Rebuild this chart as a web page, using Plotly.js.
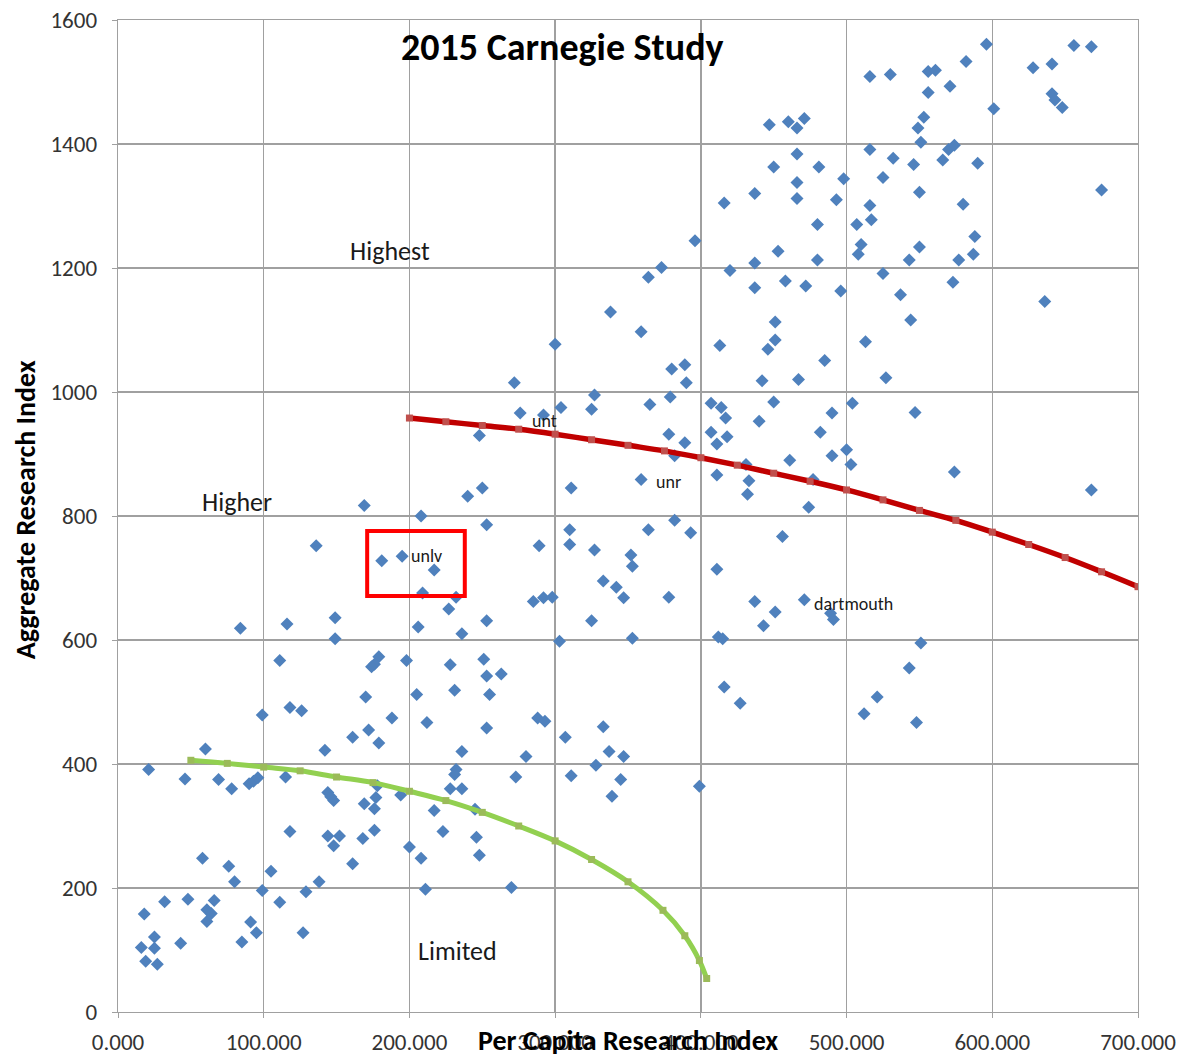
<!DOCTYPE html>
<html>
<head>
<meta charset="utf-8">
<script src="https://cdn.plot.ly/plotly-3.0.1.min.js"></script>
<style>html,body{margin:0;padding:0;background:#fff;}#chart{width:1180px;height:1056px;}</style>
</head>
<body>
<div id="chart"></div>
<script>
// Institutions: per capita research index (x) and aggregate research index (y)
const schoolX = [
338,300,
596,656,668,582,628,641,516,530,556,561,571,556,601,641,643,648,553,549,551,447,460,466,471,516,532,546,566,570,574,590,466,450,481,498,466,525,466,437,416,493,550,580,675,516,517,480,507,396,588,550,453,510,508,480,543,577,587,437,373,364,420,525,458,472,437,496,573,537,636,451,544,359,413,451,446,513,
380,389,390,485,442,467,527,365,379,407,414,417,450,440,490,504,547,378,389,407,418,411,482,382,431,461,490,500,503,359,411,433,432,477,474,574,668,382,364,393,456,352,353,411,378,437,471,451,489,491,443,353,412,415,551,543,
416,427,521,512,548,399,
272,327,276,292,304,325,248,250,240,311,169,208,253,310,310,289,327,136,181,195,217,333,342,347,285,292,298,209,232,227,253,325,206,236,303,84,116,149,149,111,179,176,174,198,228,251,253,263,
99,118,126,170,205,231,255,212,253,172,188,161,179,60,142,236,288,293,307,333,280,337,347,21,46,69,78,90,93,96,115,232,231,273,311,328,345,339,144,148,146,178,177,176,169,194,228,236,217,245,223,246,248,200,208,211,270,118,144,152,148,168,176,161,58,76,80,105,138,99,129,111,18,32,48,66,61,64,61,91,95,127,85,43,25,16,25,19,27
];
const schoolY = [
1129,1077,
1561,1559,1557,1533,1523,1529,1509,1512,1517,1519,1493,1483,1457,1481,1471,1459,1443,1426,1403,1431,1436,1426,1441,1391,1377,1367,1374,1391,1398,1369,1384,1363,1363,1344,1338,1346,1312,1320,1305,1310,1322,1303,1326,1301,1278,1270,1270,1244,1251,1234,1227,1238,1222,1213,1213,1213,1222,1208,1201,1185,1196,1191,1179,1171,1168,1163,1177,1157,1146,1113,1116,1097,1075,1084,1069,1081,
1037,1044,1015,1051,1018,1020,1023,980,992,982,975,958,984,953,966,982,967,932,918,935,928,916,935,897,883,890,897,907,883,859,866,857,835,859,814,871,842,793,778,773,767,737,719,714,669,662,665,645,643,633,623,603,605,602,595,555,
524,498,508,481,467,364,
1015,995,966,963,975,972,930,845,832,845,817,800,786,778,754,752,745,752,728,735,713,695,685,668,662,668,669,676,669,650,631,631,621,610,598,619,626,636,602,567,573,561,557,567,560,569,542,545,
479,491,486,508,512,519,512,467,458,455,474,443,434,424,422,420,474,469,443,460,412,420,412,391,376,375,360,368,372,378,379,391,383,379,381,398,375,348,354,341,347,365,346,328,336,350,360,360,325,327,291,282,253,266,248,198,201,291,284,284,268,280,293,239,248,235,210,227,210,196,194,177,158,178,182,180,165,159,146,145,128,128,113,111,121,104,103,82,77
];

// Boundary curves
const highestX = [200,225,250,275,300,325,350,375,400,425,450,475,500,525,550,575,600,625,650,675,700];
const highestY = [958,952,946,940,932,923,914,905,894,882,869,856,842,826,809,793,774,754,733,710,686];
const higherX = [50,75,100,125,150,175,200,225,250,275,300,325,350,374,389,399,404];
const higherY = [406,401,395,389,379,370,356,341,322,300,276,246,210,164,123,83,54];

// Text labels
const regionLabels = ["Highest","Higher","Limited"];
const regionX = [187,82,233];
const regionY = [1227,823,98];
const schoolLabels = ["unt","unr","unlv","dartmouth"];
const schoolLabelX = [293,378,212,505];
const schoolLabelY = [953,855,736,658];

const FONT = "Carlito, Calibri, Lato, 'Open Sans', sans-serif";

const traces = [
  {type:'scatter', mode:'markers', x:schoolX, y:schoolY, name:'Institutions',
   marker:{symbol:'diamond', size:10, color:'#4F81BD'}, hoverinfo:'x+y'},
  {type:'scatter', mode:'lines+markers', x:highestX, y:highestY, name:'Highest',
   line:{color:'#C00000', width:5.5, shape:'spline'}, marker:{symbol:'square', size:7, color:'#C0504D'}},
  {type:'scatter', mode:'lines+markers', x:higherX, y:higherY, name:'Higher',
   line:{color:'#92D050', width:5, shape:'spline'}, marker:{symbol:'square', size:7, color:'#9BBB59'}}
];

const annotations = [];
regionLabels.forEach((t,i)=>annotations.push({x:regionX[i], y:regionY[i], xref:'x', yref:'y', text:t, showarrow:false,
  font:{family:FONT, size:26, color:'#1a1a1a'}}));
schoolLabels.forEach((t,i)=>annotations.push({x:schoolLabelX[i], y:schoolLabelY[i], xref:'x', yref:'y', text:t, showarrow:false,
  font:{family:FONT, size:18, color:'#1a1a1a'}}));
annotations.push({x:0.436, y:0.973, xref:'paper', yref:'paper', xanchor:'center', yanchor:'middle', text:'<b>2015 Carnegie Study</b>', showarrow:false,
  font:{family:FONT, size:38, color:'#000'}});
annotations.push({x:0.5, y:-0.0292, xref:'paper', yref:'paper', xanchor:'center', yanchor:'middle', text:'<b>Per Capita Research Index</b>', showarrow:false,
  font:{family:FONT, size:28, color:'#000'}});
annotations.push({x:-0.091, y:0.506, xref:'paper', yref:'paper', xanchor:'center', yanchor:'middle', text:'<b>Aggregate Research Index</b>', showarrow:false, textangle:-90,
  font:{family:FONT, size:28, color:'#000'}});

const layout = {
  width:1180, height:1056,
  margin:{l:118, r:42, t:20, b:44},
  paper_bgcolor:'#fff', plot_bgcolor:'#fff',
  showlegend:false,
  font:{family:FONT, color:'#333'},
  xaxis:{range:[0,700], dtick:100, tick0:0, tickformat:'.3f', showgrid:true, gridcolor:'#a0a0a0', gridwidth:1.3,
    zeroline:false, showline:true, linecolor:'#a0a0a0', linewidth:1.3, mirror:true,
    ticks:'outside', ticklen:5, tickcolor:'#a0a0a0', ticklabelstandoff:4,
    tickfont:{family:FONT, size:23, color:'#333'}, automargin:false},
  yaxis:{range:[0,1600], dtick:200, tick0:0, showgrid:true, gridcolor:'#a0a0a0', gridwidth:1.3,
    zeroline:false, showline:true, linecolor:'#a0a0a0', linewidth:1.3, mirror:true,
    ticks:'outside', ticklen:5, tickcolor:'#a0a0a0', ticklabelstandoff:10,
    tickfont:{family:FONT, size:23, color:'#333'}, automargin:false},
  annotations: annotations,
  shapes:[{type:'rect', xref:'x', yref:'y', x0:171, x1:238, y0:671, y1:776, line:{color:'#FF0000', width:4}}]
};

Plotly.newPlot('chart', traces, layout, {displayModeBar:false, staticPlot:true});
</script>
</body>
</html>
